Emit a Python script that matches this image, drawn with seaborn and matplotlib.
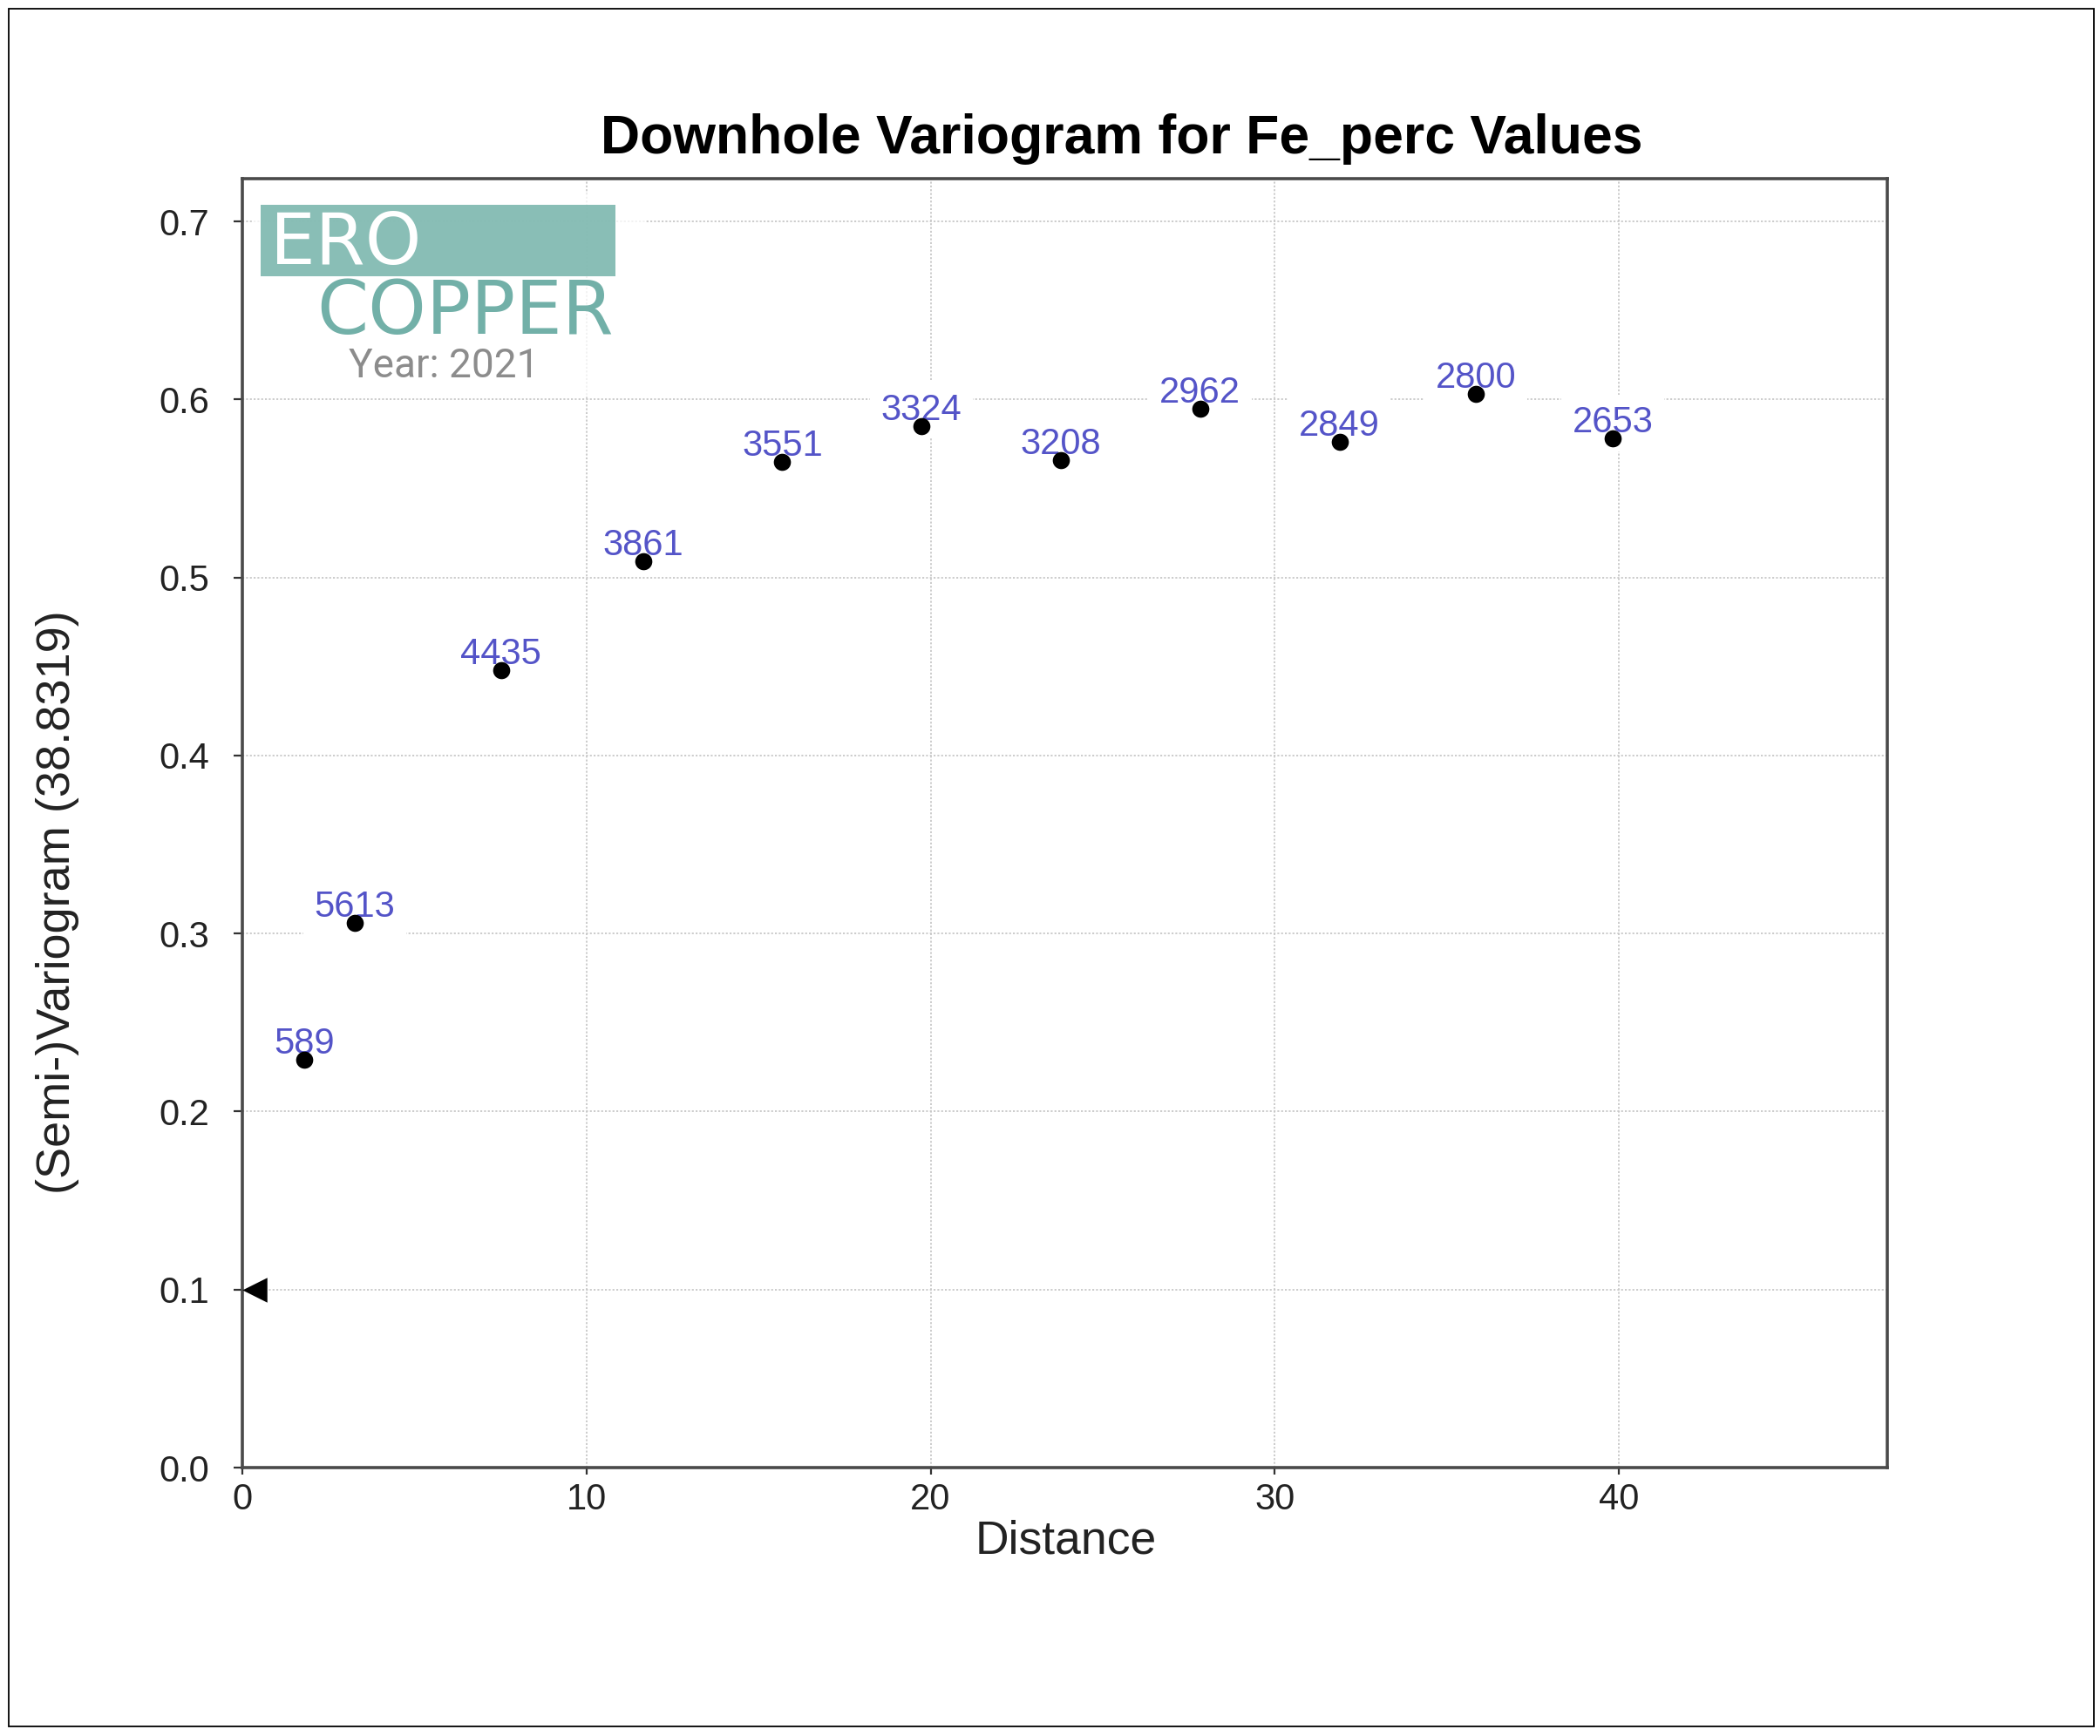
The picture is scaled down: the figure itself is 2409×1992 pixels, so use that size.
import matplotlib
matplotlib.use("Agg")
import matplotlib.pyplot as plt
import seaborn as sns
import pandas as pd
from matplotlib.patches import Rectangle

# ---- data ----
distance = [1.79, 3.27, 7.52, 11.64, 15.69, 19.73, 23.78, 27.83, 31.88, 35.85, 39.82]
semivariogram = [0.229, 0.306, 0.448, 0.509, 0.565, 0.585, 0.566, 0.595, 0.576, 0.603, 0.578]
pair_counts = [589, 5613, 4435, 3861, 3551, 3324, 3208, 2962, 2849, 2800, 2653]
nugget_x = [0.35]
nugget_y = [0.1]
x_ticks = [0, 10, 20, 30, 40]
y_ticks = [0.0, 0.1, 0.2, 0.3, 0.4, 0.5, 0.6, 0.7]

sns.set_theme(style="white")
plt.rcParams["font.family"] = ["Liberation Sans", "DejaVu Sans"]

W, H = 2409, 1992
fig = plt.figure(figsize=(W / 100, H / 100), dpi=100)
fig.patch.set_facecolor("white")

ax = fig.add_axes([278 / W, 1 - 1684 / H, (2165 - 278) / W, (1684 - 205) / H])
ax.set_xlim(0, 47.8)
ax.set_ylim(0, 0.724)

df = pd.DataFrame({"Distance": distance, "gamma": semivariogram, "pairs": pair_counts})

# grid
ax.set_xticks(x_ticks)
ax.set_yticks(y_ticks)
ax.set_yticklabels([f"{v:.1f}" for v in y_ticks])
ax.grid(True, color="#c8c8c8", linestyle=(0, (1.2, 1.2)), linewidth=1.3)
ax.set_axisbelow(True)

for sp in ax.spines.values():
    sp.set_color("#4a4a4a")
    sp.set_linewidth(2.6)
    sp.set_visible(True)

ax.tick_params(axis="both", which="both", colors="#333333", labelcolor="#222222",
               labelsize=30, width=1.6)
ax.tick_params(axis="y", length=7, pad=20, left=True)
ax.tick_params(axis="x", length=6, pad=6, bottom=True)

# points
sns.scatterplot(data=df, x="Distance", y="gamma", ax=ax, color="black", s=200,
                edgecolor="black", linewidth=0, zorder=6, legend=False)
sns.scatterplot(x=nugget_x, y=nugget_y, ax=ax, color="black", marker="<", s=420,
                edgecolor="black", linewidth=0, zorder=6, legend=False, clip_on=False)

# pair-count labels
for xv, yv, n in zip(distance, semivariogram, pair_counts):
    ax.annotate(str(n), (xv, yv), xytext=(0, 7), textcoords="offset pixels",
                ha="center", va="baseline", fontsize=30, color="#5454c8",
                bbox=dict(boxstyle="square,pad=0.3", fc="white", ec="none"),
                zorder=5, annotation_clip=False)

ax.set_xlabel("")
ax.set_ylabel("")
fig.text(1223 / W, 1 - 1782 / H, "Distance", ha="center", va="baseline",
         fontsize=38.5, color="#222222")
fig.text(66 / W, 1 - 1035 / H, "(Semi-)Variogram (38.8319)", ha="center", va="center",
         rotation=90, fontsize=39, color="#222222")

# title
fig.text(1287 / W, 1 - 176 / H, "Downhole Variogram for Fe_perc Values", ha="center",
         va="baseline", fontsize=45, fontweight="bold", color="black")

# logo watermark
fig.patches.append(Rectangle((290 / W, 1 - 455 / H), 450 / W, 233 / H,
                             transform=fig.transFigure, fc="white", ec="none",
                             alpha=0.75, zorder=3))
fig.patches.append(Rectangle((299 / W, 1 - 317 / H), 407 / W, 82 / H,
                             transform=fig.transFigure, fc="#7fb9b0", ec="none",
                             alpha=0.92, zorder=4))
fig.text(310 / W, 1 - 303 / H, "ERO", ha="left", va="baseline", fontsize=59,
         color="white", family=["DejaVu Sans"], zorder=5)
fig.text(363 / W, 1 - 383 / H, "COPPER", ha="left", va="baseline", fontsize=61,
         color="#72b0a8", family=["DejaVu Sans"], zorder=5)
fig.text(400 / W, 1 - 433 / H, "Year: 2021", ha="left", va="baseline", fontsize=33,
         color="#8c8c8c", family=["Roboto", "DejaVu Sans"], zorder=5)

# outer border
fig.patches.append(Rectangle((10 / W, 11 / H), (2402 - 10) / W, (1981 - 10) / H,
                             transform=fig.transFigure, fill=False, ec="black",
                             lw=1.3, zorder=10))

fig.savefig("out.png", dpi=100, facecolor="white")
